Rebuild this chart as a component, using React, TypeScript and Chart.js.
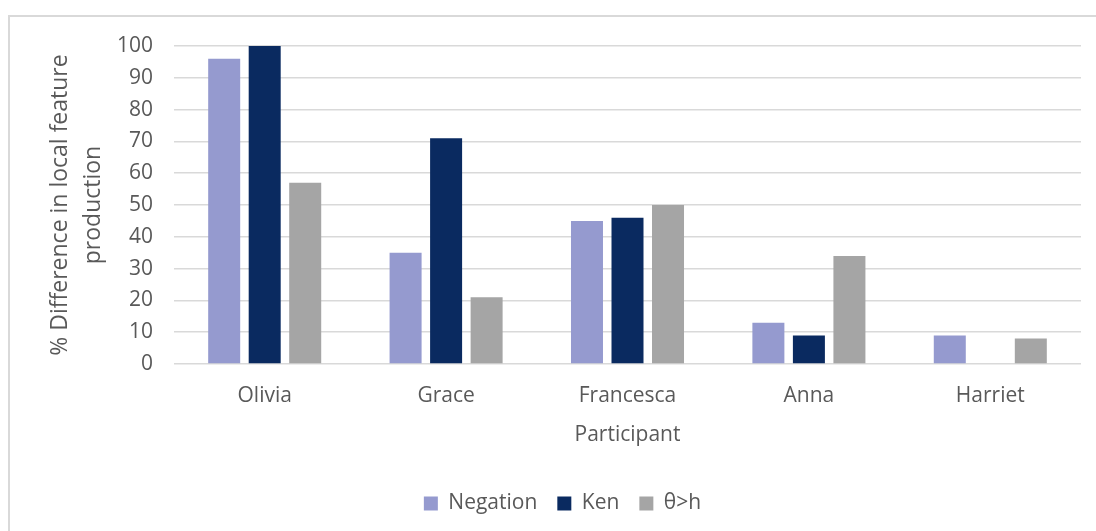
import React, { useEffect, useRef } from "react";
import { Chart, registerables } from "chart.js";

Chart.register(...registerables);

const participants = ["Olivia", "Grace", "Francesca", "Anna", "Harriet"];
const negation = [96, 35, 45, 13, 9];
const ken = [100, 71, 46, 9, 0];
const thetaH = [57, 21, 50, 34, 8];
const yTicks = [0, 10, 20, 30, 40, 50, 60, 70, 80, 90, 100];

const seriesNames = ["Negation", "Ken", "θ>h"];
const seriesColors = ["#959ACF", "#0A2A60", "#A5A5A5"];

const FONT = "'Open Sans', 'DejaVu Sans', sans-serif";
const TEXT = "#595959";
const GRID = "#D9D9D9";

export default function App() {
  const canvasRef = useRef<HTMLCanvasElement | null>(null);

  useEffect(() => {
    if (!canvasRef.current) return;
    const chart = new Chart(canvasRef.current, {
      type: "bar",
      data: {
        labels: participants,
        datasets: [negation, ken, thetaH].map((values, i) => ({
          label: seriesNames[i],
          data: values,
          backgroundColor: seriesColors[i],
          borderWidth: 0,
          categoryPercentage: 0.67,
          barPercentage: 0.79,
        })),
      },
      options: {
        animation: false,
        responsive: false,
        maintainAspectRatio: false,
        layout: { padding: { left: 44, top: 46, right: 15, bottom: 7 } },
        plugins: {
          tooltip: { enabled: false },
          legend: {
            position: "bottom",
            labels: {
              boxWidth: 14,
              boxHeight: 14,
              padding: 20,
              color: TEXT,
              font: { family: FONT, size: 21 },
            },
          },
        },
        scales: {
          x: {
            grid: { display: false },
            border: { display: false },
            ticks: {
              color: TEXT,
              padding: 11,
              font: { family: FONT, size: 21 },
            },
            title: {
              display: true,
              text: "Participant",
              color: TEXT,
              font: { family: FONT, size: 21 },
              padding: { top: 0, bottom: 25 },
            },
            afterFit: (scale: any) => {
              scale.height = 109;
            },
          },
          y: {
            min: 0,
            max: 100,
            afterBuildTicks: (scale: any) => {
              scale.ticks = yTicks.map((v) => ({ value: v }));
            },
            grid: { color: GRID, lineWidth: 1.5, drawTicks: false },
            border: { display: false },
            ticks: {
              color: TEXT,
              padding: 21,
              font: { family: FONT, size: 21 },
            },
            title: {
              display: true,
              text: ["% Difference in local feature", "production"],
              color: TEXT,
              font: { family: FONT, size: 23, lineHeight: 1.43 },
              padding: 0,
            },
            afterFit: (scale: any) => {
              scale.width = 130;
            },
          },
        },
      },
    });
    return () => chart.destroy();
  }, []);

  return (
    <div
      style={{
        position: "absolute",
        left: 0,
        top: 0,
        width: 1096,
        height: 531,
        background: "#ffffff",
        overflow: "hidden",
      }}
    >
      <div
        style={{
          position: "absolute",
          left: 8,
          top: 15,
          width: 1100,
          height: 530,
          borderTop: `2px solid ${GRID}`,
          borderLeft: `2px solid ${GRID}`,
          pointerEvents: "none",
        }}
      />
      <canvas
        ref={canvasRef}
        width={1096}
        height={531}
        style={{ position: "absolute", left: 0, top: 0 }}
      />
    </div>
  );
}
